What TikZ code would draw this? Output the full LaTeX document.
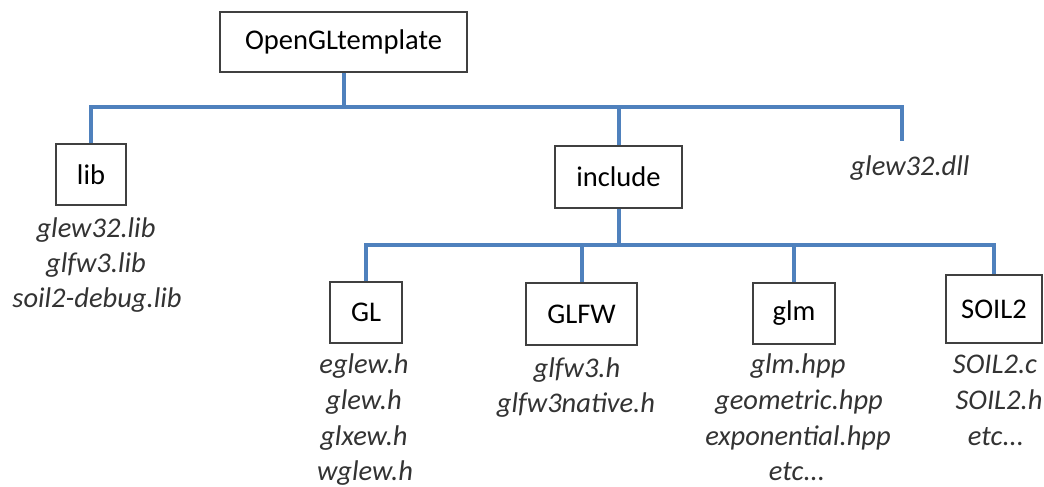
\documentclass[tikz,border=0pt]{standalone}
\usepackage{fontspec}
\setmainfont{Carlito}
\begin{document}
\begin{tikzpicture}[x=1pt,y=-1pt,
  box/.style={draw=black!75,line width=1.6pt,inner sep=0pt,font=\fontsize{28.5}{34}\selectfont},
  fl/.style={inner sep=0pt,anchor=base,text=black!80,font=\fontsize{28.5}{34}\selectfont\itshape},
  conn/.style={draw=blue1,line width=4pt}]
\definecolor{blue1}{RGB}{79,129,189}
\useasboundingbox (0,0) rectangle (1044,487);
% boxes
\node[box,minimum width=247,minimum height=60] (root) at (343.5,42) {OpenGLtemplate};
\node[box,minimum width=70,minimum height=61] (lib) at (91,174.5) {lib};
\node[box,minimum width=127,minimum height=62] (inc) at (618.5,177) {include};
\node[box,minimum width=72,minimum height=61] (gl) at (366,312.5) {GL};
\node[box,minimum width=111,minimum height=62] (glfw) at (581.5,314) {GLFW};
\node[box,minimum width=82,minimum height=61] (glm) at (794,313.5) {glm};
\node[box,minimum width=96,minimum height=68] (soil) at (994,309) {SOIL2};
% file lists
\node[fl] (lib1) at (96,237) {glew32.lib};
\node[fl] (lib2) at (96,272) {glfw3.lib};
\node[fl] (lib3) at (97,307) {soil2-debug.lib};
\node[fl] (dll) at (910,175) {glew32.dll};
\node[fl] (gl1) at (364,373) {eglew.h};
\node[fl] (gl2) at (364,409) {glew.h};
\node[fl] (gl3) at (364,445) {glxew.h};
\node[fl] (gl4) at (365,480) {wglew.h};
\node[fl] (glfw1) at (577,377) {glfw3.h};
\node[fl] (glfw2) at (576,412) {glfw3native.h};
\node[fl] (glm1) at (798,373) {glm.hpp};
\node[fl] (glm2) at (799,409) {geometric.hpp};
\node[fl] (glm3) at (798,445) {exponential.hpp};
\node[fl] (glm4) at (797,480) {etc...};
\node[fl] (soil1) at (995,373) {SOIL2.c};
\node[fl] (soil2) at (999,409) {SOIL2.h};
\node[fl] (soil3) at (996,445) {etc...};
% connectors
\coordinate (b1) at (343.5,107);
\coordinate (dllend) at (902,141);
\coordinate (b2) at (618.5,245);
\draw[conn] (root.south) -- (b1);
\draw[conn] (lib.north) |- (b1) -| (dllend);
\draw[conn] (inc.north) -- (inc.north |- b1);
\draw[conn] (inc.south) -- (b2);
\draw[conn] (gl.north) |- (b2) -| (soil.north);
\draw[conn] (glfw.north) -- (glfw.north |- b2);
\draw[conn] (glm.north) -- (glm.north |- b2);
\end{tikzpicture}
\end{document}
